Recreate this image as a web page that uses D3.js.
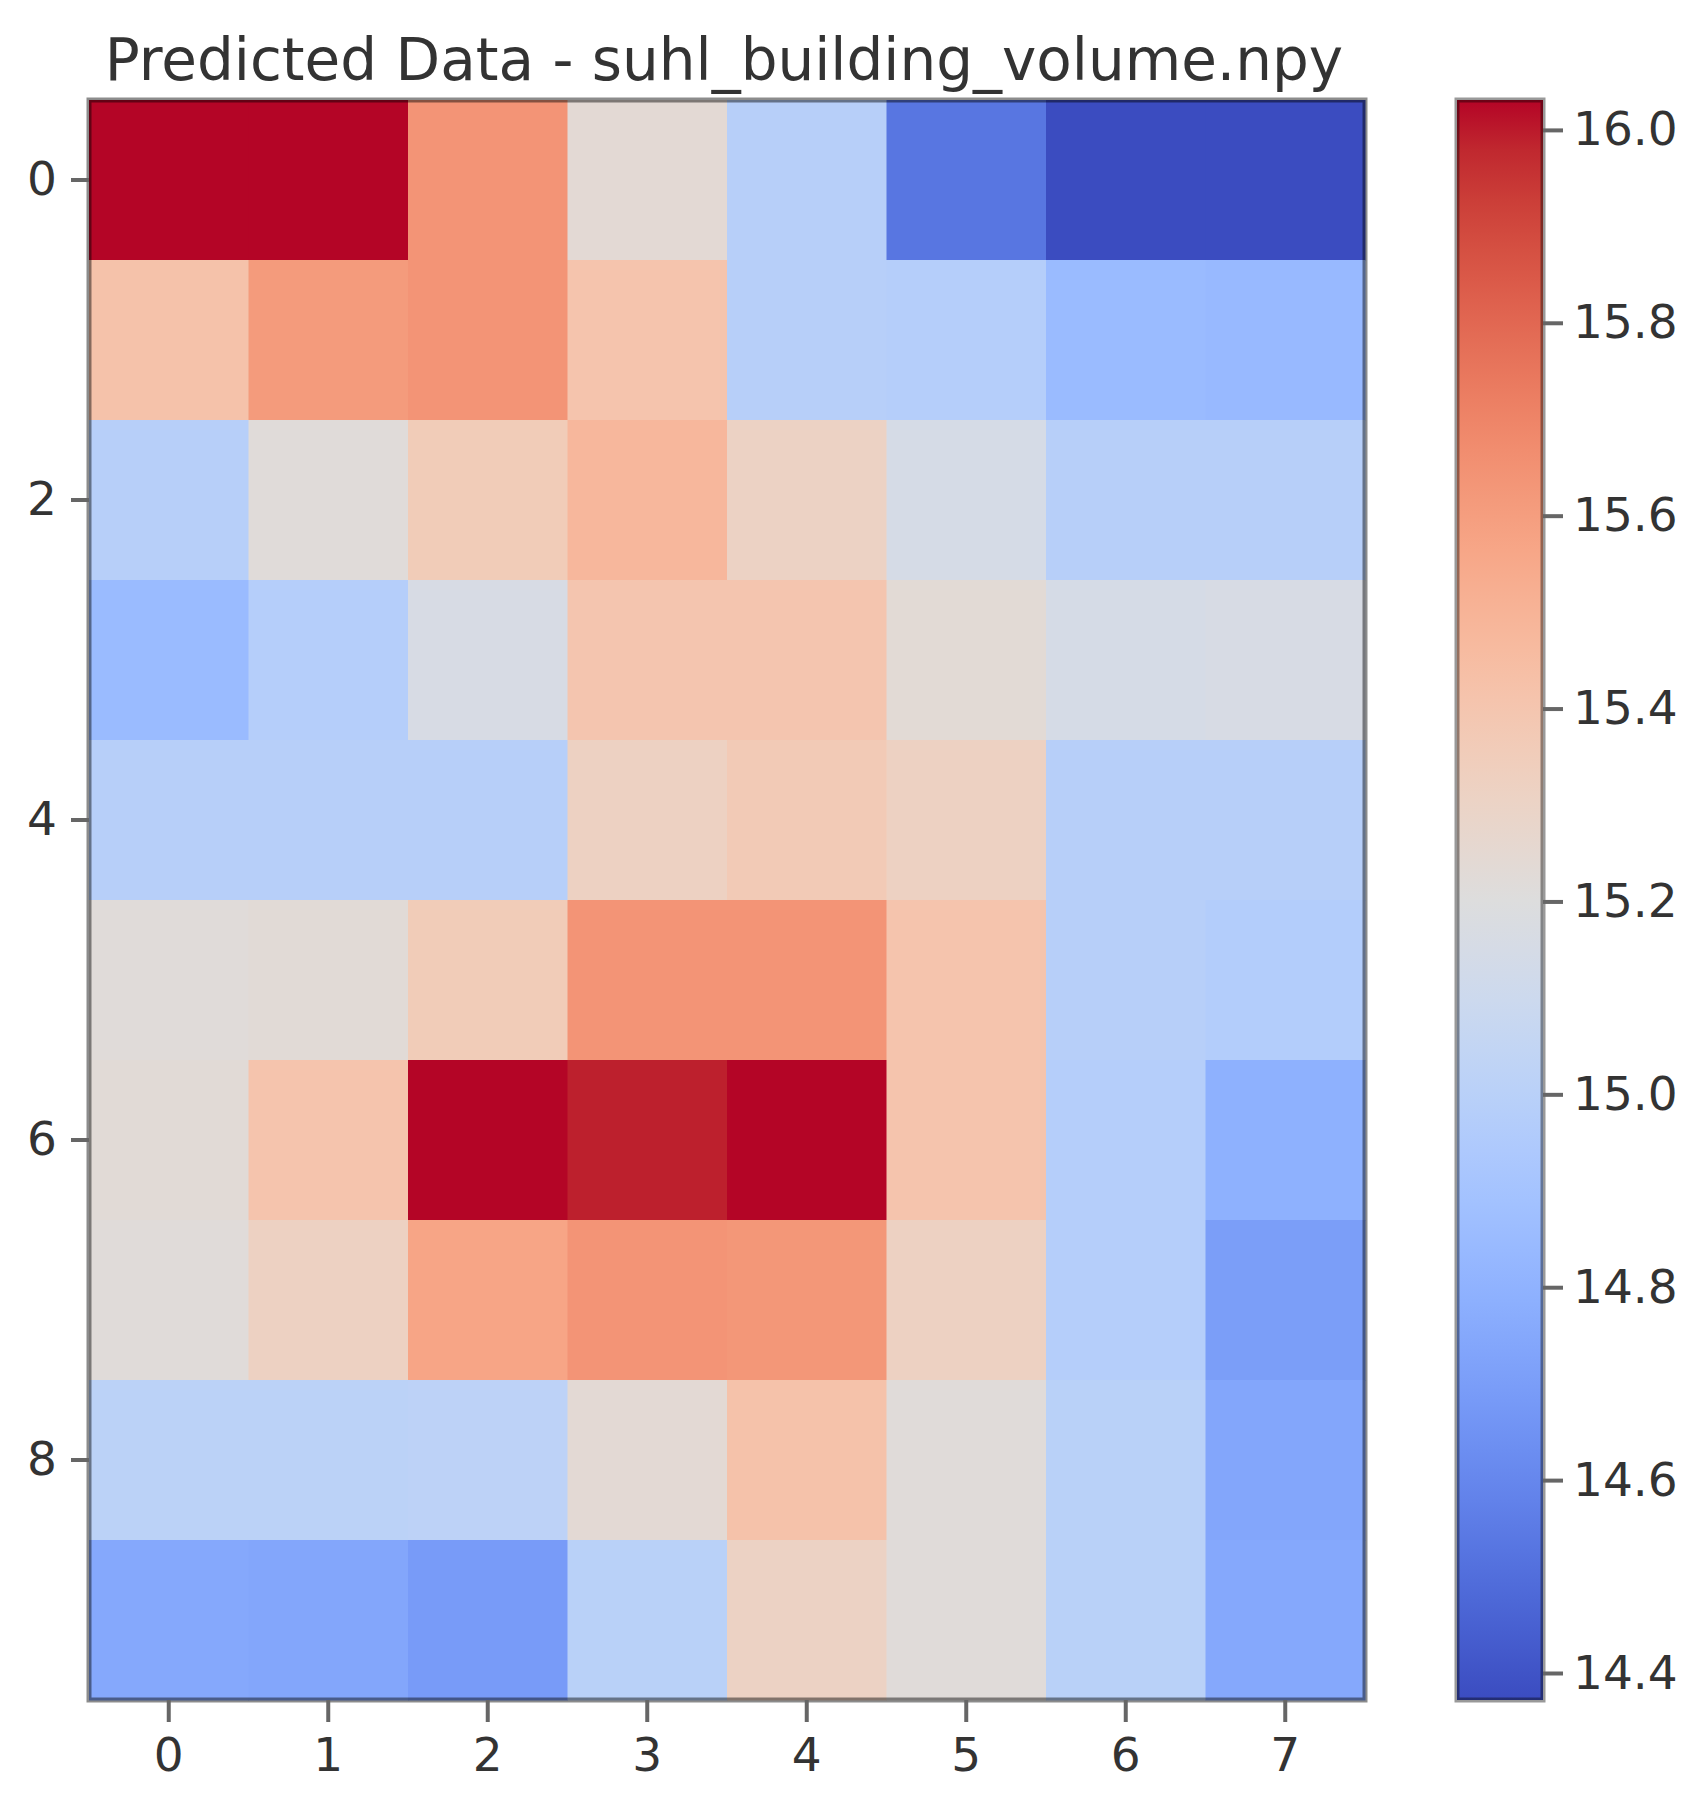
<!DOCTYPE html>
<html>
<head>
<meta charset="utf-8">
<script src="https://cdn.jsdelivr.net/npm/d3@7"></script>
<style>
  body { margin: 0; background: #fff; }
  text { font-family: "DejaVu Sans", sans-serif; fill: #333; }
</style>
</head>
<body>
<div id="chart"></div>
<script>
// chart data
var title = "Predicted Data - suhl_building_volume.npy";
var colLabels = [0, 1, 2, 3, 4, 5, 6, 7];
var rowLabels = [0, 1, 2, 3, 4, 5, 6, 7, 8, 9];
var yTickLabels = [0, 2, 4, 6, 8];
var cbarTicks = [14.4, 14.6, 14.8, 15.0, 15.2, 15.4, 15.6, 15.8, 16.0];
var vmin = 14.372, vmax = 16.031;

var row0 = [16.03, 16.03, 15.64, 15.24, 14.99, 14.53, 14.37, 14.37];
var row1 = [15.42, 15.61, 15.64, 15.41, 14.99, 14.98, 14.85, 14.84];
var row2 = [14.99, 15.22, 15.36, 15.48, 15.31, 15.15, 14.99, 14.99];
var row3 = [14.85, 14.98, 15.16, 15.40, 15.40, 15.235, 15.15, 15.16];
var row4 = [14.99, 14.99, 14.99, 15.32, 15.37, 15.32, 14.99, 14.99];
var row5 = [15.22, 15.23, 15.36, 15.64, 15.64, 15.41, 14.99, 14.97];
var row6 = [15.23, 15.41, 16.03, 15.99, 16.03, 15.41, 14.98, 14.79];
var row7 = [15.22, 15.32, 15.57, 15.64, 15.63, 15.32, 14.98, 14.70];
var row8 = [15.01, 15.01, 15.02, 15.24, 15.42, 15.22, 15.00, 14.74];
var row9 = [14.75, 14.74, 14.69, 15.00, 15.31, 15.22, 15.00, 14.75];
var values = [row0, row1, row2, row3, row4, row5, row6, row7, row8, row9];

// coolwarm colormap (Moreland), 33 stops
var coolwarm = [
  [59,76,192],[68,90,204],[77,104,215],[87,117,225],[98,130,234],[108,142,241],
  [119,154,247],[130,165,251],[141,176,254],[152,185,255],[163,194,255],[174,201,253],
  [184,208,249],[194,213,244],[204,217,238],[213,219,230],[221,221,221],[229,216,209],
  [236,211,197],[241,204,185],[245,196,173],[247,187,160],[247,177,148],[247,166,135],
  [244,154,123],[241,141,111],[236,127,99],[229,112,88],[222,96,77],[213,80,66],
  [203,62,56],[192,40,47],[180,4,38]
].map(function (c) { return d3.rgb(c[0], c[1], c[2]).toString(); });

var W = 1704, H = 1802;
var plot = {left: 89, right: 1365, top: 100, bottom: 1700};
var cbar = {left: 1457, right: 1543};

var svg = d3.select("#chart")
  .append("svg")
    .attr("width", W)
    .attr("height", H);

var x = d3.scaleBand()
  .domain(colLabels)
  .range([plot.left, plot.right]);
var y = d3.scaleBand()
  .domain(rowLabels)
  .range([plot.top, plot.bottom]);

var color = d3.scaleLinear()
  .domain(coolwarm.map(function (c, i) { return vmin + (vmax - vmin) * i / (coolwarm.length - 1); }))
  .range(coolwarm)
  .interpolate(d3.interpolateRgb)
  .clamp(true);

// cells
var cells = [];
values.forEach(function (row, r) {
  row.forEach(function (v, c) { cells.push({r: r, c: c, v: v}); });
});
svg.append("g")
  .selectAll("rect")
  .data(cells)
  .enter()
  .append("rect")
    .attr("x", function (d) { return x(d.c); })
    .attr("y", function (d) { return y(d.r); })
    .attr("width", x.bandwidth() + 0.5)
    .attr("height", y.bandwidth() + 0.5)
    .style("fill", function (d) { return color(d.v); });

// frame
svg.append("rect")
  .attr("x", plot.left).attr("y", plot.top)
  .attr("width", plot.right - plot.left).attr("height", plot.bottom - plot.top)
  .style("fill", "none").style("stroke", "rgba(0,0,0,0.45)").style("stroke-width", 5);

// x axis
var xAxis = svg.append("g")
  .attr("transform", "translate(0," + plot.bottom + ")")
  .call(d3.axisBottom(x).tickSize(22).tickPadding(16));
xAxis.select(".domain").remove();
xAxis.selectAll("line").style("stroke", "#666").style("stroke-width", 4);
xAxis.selectAll("text").style("font-size", "47px").style("fill", "#333");

// y axis
var yAxis = svg.append("g")
  .attr("transform", "translate(" + plot.left + ",0)")
  .call(d3.axisLeft(y).tickValues(yTickLabels).tickSize(18).tickPadding(14));
yAxis.select(".domain").remove();
yAxis.selectAll("line").style("stroke", "#666").style("stroke-width", 4);
yAxis.selectAll("text").style("font-size", "47px").style("fill", "#333");

// title
svg.append("text")
  .attr("x", (plot.left + plot.right) / 2 - 3)
  .attr("y", 80)
  .attr("text-anchor", "middle")
  .style("font-size", "58px")
  .text(title);

// colorbar
var cy = d3.scaleLinear()
  .domain([vmin, vmax])
  .range([plot.bottom, plot.top]);

var grad = svg.append("defs").append("linearGradient")
  .attr("id", "cw")
  .attr("x1", 0).attr("y1", 1).attr("x2", 0).attr("y2", 0);
grad.selectAll("stop")
  .data(coolwarm)
  .enter()
  .append("stop")
    .attr("offset", function (d, i) { return i / (coolwarm.length - 1); })
    .attr("stop-color", function (d) { return d; });

svg.append("rect")
  .attr("x", cbar.left).attr("y", plot.top)
  .attr("width", cbar.right - cbar.left).attr("height", plot.bottom - plot.top)
  .style("fill", "url(#cw)")
  .style("stroke", "rgba(0,0,0,0.4)").style("stroke-width", 5);

var cAxis = svg.append("g")
  .attr("transform", "translate(" + cbar.right + ",0)")
  .call(d3.axisRight(cy).tickValues(cbarTicks).tickFormat(d3.format(".1f")).tickSize(20).tickPadding(10));
cAxis.select(".domain").remove();
cAxis.selectAll("line").style("stroke", "#666").style("stroke-width", 4);
cAxis.selectAll("text").style("font-size", "47px").style("fill", "#333");
</script>
</body>
</html>
